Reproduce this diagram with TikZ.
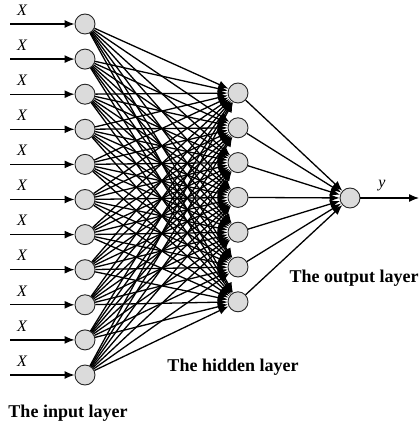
\documentclass[tikz,border=0pt]{standalone}
\usepackage{fontspec}
\setmainfont{Liberation Serif}
\usetikzlibrary{arrows.meta}
\begin{document}
\begin{tikzpicture}[x=1pt,y=-1pt,
  neuron/.style={circle,draw=black!85,fill=black!14,line width=0.9pt,minimum size=20pt,inner sep=0pt},
  conn/.style={line width=1.3pt,-{Latex[length=10pt,width=8pt]}},
  layerlabel/.style={font=\bfseries\fontsize{18}{21}\selectfont},
  varlabel/.style={font=\itshape\fontsize{16}{18}\selectfont}]
\useasboundingbox (0,0) rectangle (419,430);
% input layer
\foreach \i in {0,...,10} {
  \node[neuron] (in\i) at (85,{24+35.1*\i}) {};
  \coordinate (src\i) at (10,{24+35.1*\i});
  \node[varlabel] (x\i) at (22,{10+35.1*\i}) {X};
  \draw[conn] (src\i) -- (in\i);
}
% hidden layer
\foreach \j in {0,...,6} {
  \node[neuron] (h\j) at (238,{93+34.8*\j}) {};
}
% output
\node[neuron] (out) at (350,198) {};
\coordinate (yend) at (419,198);
\draw[conn] (out) -- (yend);
\node[varlabel] (ylab) at (382,186) {y};
% connections
\foreach \i in {0,...,10} {
  \foreach \j in {0,...,6} {
    \draw[conn] (in\i) -- (h\j);
  }
}
\foreach \j in {0,...,6} {
  \draw[conn] (h\j) -- (out);
}
% labels
\node[layerlabel] (lin) at (68,413) {The input layer};
\node[layerlabel] (lhid) at (233,367) {The hidden layer};
\node[layerlabel] (lout) at (354,278) {The output layer};
\end{tikzpicture}
\end{document}
